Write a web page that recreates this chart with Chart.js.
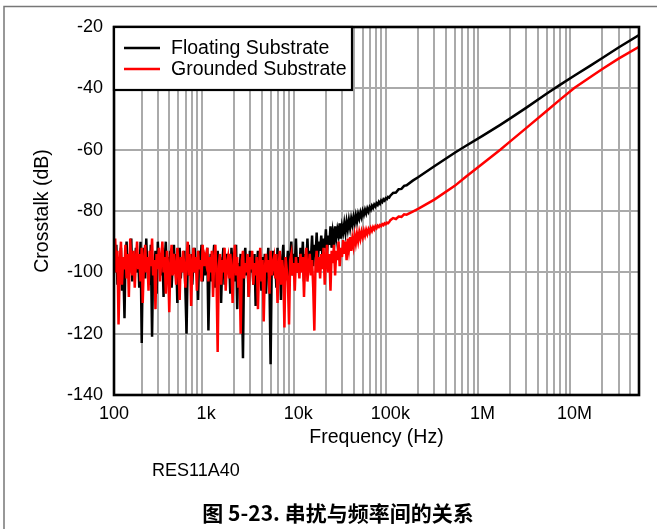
<!DOCTYPE html>
<html><head><meta charset="utf-8">
<script src="https://cdn.jsdelivr.net/npm/chart.js@4.4.0/dist/chart.umd.min.js"></script>
<style>
html,body{margin:0;padding:0;background:#fff;}
canvas{display:block;}
</style></head><body>
<canvas id="c" width="657" height="529"></canvas>
<script>
// ---------------- DATA ----------------
// dense noisy sweep 100 Hz .. ~97 kHz
const freqNoise = [
100,103,106,109,112,116,119,122,126,130,133,137,141,145,150,154,158,163,168,173,178,183,188,194,200,205,211,218,224,230,237,244,251,259,266,274,282,290,299,307,316,325,335,345,355,365,376,387,398,410,422,434,447,460,473,487,501,516,531,546,562,579,596,613,631,649,668,688,708,729,750,772,794,818,841,866,891,917,944,972,
1000,1029,1059,1090,1122,1155,1189,1223,1259,1296,1334,1372,1413,1454,1496,1540,1585,1631,1679,1728,1778,1830,1884,1939,1995,2054,2113,2175,2239,2304,2371,2441,2512,2585,2661,2738,2818,2901,2985,3073,3162,3255,3350,3447,3548,3652,3758,3868,3981,4097,4217,4340,4467,4597,4732,4870,5012,5158,5309,5464,5623,5788,5957,6131,6310,6494,6683,6879,7079,7286,7499,7718,7943,8175,8414,8660,8913,9173,9441,9716,
10000,10290,10590,10900,11220,11550,11890,12230,12590,12960,13340,13720,14130,14540,14960,15400,15850,16310,16790,17280,17780,18300,18840,19390,19950,20540,21130,21750,22390,23040,23710,24410,25120,25850,26610,27380,28180,29010,29850,30730,31620,32550,33500,34470,35480,36520,37580,38680,39810,40970,42170,43400,44670,45970,47320,48700,50120,51580,53090,54640,56230,57880,59570,61310,63100,64940,66830,68790,70790,72860,74990,77180,79430,81750,84140,86600,89130,91730,94410,97160
];
const freqSmooth = [100000,107000,115000,123000,132000,141000,150000,175000,200000,300000,500000,650000,1000000,1560000,2000000,3000000,5000000,7000000,10000000,15000000,20000000,30000000,50000000];

// Floating Substrate (black)
const floatingNoise = [
-93,-99,-91,-104,-95,-100,-92,-106,-97,-115,
-96,-90,-101,-94,-99,-89,-103,-95,-98,-92,
-100,-94,-105,-90,-123,-97,-92,-102,-89,-99,
-95,-104,-91,-121,-96,-100,-93,-107,-90,-98,
-94,-101,-92,-108,-96,-90,-103,-95,-99,-93,
-105,-97,-91,-100,-94,-110,-96,-92,-102,-95,
-99,-93,-106,-120,-97,-91,-101,-94,-104,-96,
-92,-100,-95,-109,-93,-98,-91,-103,-96,-101,
-97,-92,-119,-100,-94,-103,-96,-91,-105,-98,
-93,-101,-95,-110,-97,-92,-104,-99,-94,-100,
-96,-107,-92,-99,-95,-103,-91,-112,-97,-100,
-94,-105,-128,-96,-92,-101,-98,-108,-93,-100,
-96,-104,-94,-111,-98,-93,-102,-97,-106,-95,
-100,-94,-107,-99,-92,-103,-130,-97,-93,-101,
-96,-105,-92,-100,-94,-109,-97,-91,-102,-95,
-99,-93,-104,-96,-90,-101,-94,-98,-89,-100,
-95,-100,-92,-98,-90,-103,-94,-97,-89,-99,
-93,-96,-88,-98,-91,-95,-87,-97,-90,-93,
-88,-95,-89,-92,-86,-94,-88,-91,-85,-92,
-87,-90,-85,-89,-86,-88,-84,-89,-85,-87,
-84,-87,-83.5,-86,-83,-85.5,-82.5,-84.5,-82,-84,
-81.5,-83.5,-81,-82.5,-80.5,-82,-80,-81.2,-79.6,-80.8,
-79.2,-80.2,-78.8,-79.6,-78.3,-79,-77.9,-78.5,-77.5,-78,
-77,-77.6,-76.6,-77.1,-76.2,-76.6,-75.8,-76.1,-75.4,-75.6
];
const floatingSmooth = [-75,-74.1,-74,-72.9,-72.8,-71.8,-71.6,-70.1,-69,-65.4,-61,-58.9,-55.5,-51.9,-49.8,-46.3,-41.7,-38.8,-35.8,-32.5,-30.1,-26.7,-22.6];

// Grounded Substrate (red)
const groundedNoise = [
-94,-89,-100,-93,-117,-96,-90,-104,-95,-99,
-91,-102,-94,-108,-89,-97,-101,-93,-105,-96,
-90,-99,-94,-103,-92,-110,-97,-91,-100,-95,
-106,-93,-98,-89,-101,-96,-112,-94,-99,-92,
-103,-96,-90,-100,-95,-107,-93,-98,-113,-96,
-91,-101,-94,-99,-104,-92,-97,-109,-95,-100,
-93,-98,-105,-96,-90,-101,-94,-111,-97,-92,
-100,-95,-106,-93,-99,-96,-103,-91,-98,-95,
-97,-92,-103,-95,-100,-93,-108,-96,-91,-101,
-126,-98,-94,-104,-96,-100,-92,-106,-97,-95,
-102,-94,-99,-110,-96,-91,-101,-95,-105,-98,
-120,-96,-93,-102,-97,-100,-94,-108,-95,-99,
-93,-104,-97,-101,-95,-112,-98,-92,-103,-96,
-116,-99,-94,-100,-96,-107,-93,-101,-97,-95,
-102,-94,-110,-98,-93,-104,-96,-100,-118,-95,
-99,-103,-117,-96,-94,-101,-97,-106,-95,-100,
-97,-102,-94,-100,-95,-108,-96,-92,-103,-98,
-94,-101,-96,-105,-119,-97,-93,-100,-95,-102,
-94,-99,-92,-104,-96,-91,-100,-94,-106,-93,
-97,-91,-101,-93,-96,-90,-98,-92,-95,-89.5,
-94,-90,-96,-89,-92.5,-88.5,-93,-89,-91.5,-88,
-90.5,-87.5,-89.8,-87,-89,-86.8,-88.5,-86.5,-88,-86.2,
-87.5,-86,-87,-85.6,-86.5,-85.3,-86,-85,-85.6,-84.8,
-85.2,-84.6,-84.9,-84.3,-84.6,-84,-84.3,-83.8,-84,-83.6
];
const groundedSmooth = [-83,-82.3,-82.6,-81.8,-81.9,-81.1,-81.2,-80.2,-79.3,-76.3,-71.8,-69,-64.6,-60,-57.3,-52.9,-47.3,-43.6,-39.8,-36.2,-33.7,-30.3,-26.5];

const seriesNames = ['Floating Substrate','Grounded Substrate'];
const xTickValues = [100,1000,10000,100000,1000000,10000000];
const xTickLabels = ['100','1k','10k','100k','1M','10M'];
const yTickValues = [-140,-120,-100,-80,-60,-40,-20];
const xTitle = 'Frequency (Hz)';
const yTitle = 'Crosstalk (dB)';
const footnote = 'RES11A40';
const caption = '图 5-23. 串扰与频率间的关系';

// ---------------- BUILD ----------------
const freq = freqNoise.concat(freqSmooth);
const floating = floatingNoise.concat(floatingSmooth);
const grounded = groundedNoise.concat(groundedSmooth);
const toPts = arr => freq.map((f, i) => ({x: f, y: arr[i]}));

const X_MIN = 100, X_MAX = 50000000;
const gridFreqs = [];
for (let d = 100; d <= X_MAX; d *= 10) {
  for (let m = 1; m <= 9; m++) {
    const v = m * d;
    if (v <= X_MAX) gridFreqs.push(v);
  }
}

const FONT = '"Liberation Sans", Arial, sans-serif';
const GRID = '#aaaaaa';

const decorPlugin = {
  id: 'decor',
  afterDraw(chart) {
    const ctx = chart.ctx;
    const a = chart.chartArea;
    ctx.save();
    // outer frame lines
    ctx.strokeStyle = '#777';
    ctx.lineWidth = 1.5;
    ctx.beginPath();
    ctx.moveTo(4, 529); ctx.lineTo(4, 6.5); ctx.lineTo(657, 6.5);
    ctx.stroke();

    // plot border
    ctx.strokeStyle = '#000';
    ctx.lineWidth = 2.6;
    ctx.strokeRect(a.left, a.top, a.right - a.left, a.bottom - a.top);

    // legend box
    const lx = a.left, ly = a.top, lw = 238, lh = 63;
    ctx.fillStyle = '#fff';
    ctx.fillRect(lx, ly, lw, lh);
    ctx.lineWidth = 2.2;
    ctx.strokeStyle = '#000';
    ctx.strokeRect(lx, ly, lw, lh);
    const colors = [chart.data.datasets[0].borderColor, chart.data.datasets[1].borderColor];
    const rows = [ly + 21, ly + 42];
    ctx.font = '19.5px ' + FONT;
    ctx.textBaseline = 'middle';
    ctx.textAlign = 'left';
    for (let i = 0; i < 2; i++) {
      ctx.strokeStyle = colors[i];
      ctx.lineWidth = 2.5;
      ctx.beginPath();
      ctx.moveTo(lx + 10, rows[i]); ctx.lineTo(lx + 46, rows[i]);
      ctx.stroke();
      ctx.fillStyle = '#000';
      ctx.fillText(chart.data.datasets[i].label, lx + 57, rows[i] + 1);
    }

    // axis titles
    ctx.fillStyle = '#000';
    ctx.font = '19.5px ' + FONT;
    ctx.textAlign = 'center';
    ctx.textBaseline = 'middle';
    ctx.fillText(xTitle, (a.left + a.right) / 2, 438);
    ctx.save();
    ctx.translate(43, (a.top + a.bottom) / 2);
    ctx.rotate(-Math.PI / 2);
    ctx.fillText(yTitle, 0, 0);
    ctx.restore();

    // footnote
    ctx.font = '18px ' + FONT;
    ctx.textAlign = 'left';
    ctx.fillText(footnote, 152, 471);

    // caption
    ctx.font = 'bold 21px "Noto Sans CJK SC", sans-serif';
    ctx.textAlign = 'center';
    ctx.fillText(caption, 338, 513);
    ctx.restore();
  }
};

new Chart(document.getElementById('c').getContext('2d'), {
  type: 'line',
  data: {
    datasets: [
      {label: seriesNames[0], data: toPts(floating), borderColor: '#000000', borderWidth: 2.5, pointRadius: 0, tension: 0, order: 2},
      {label: seriesNames[1], data: toPts(grounded), borderColor: '#ff0000', borderWidth: 2.5, pointRadius: 0, tension: 0, order: 1}
    ]
  },
  options: {
    responsive: false,
    animation: false,
    devicePixelRatio: 1,
    layout: {padding: {left: 0, top: 27, right: 18, bottom: 0}},
    plugins: {legend: {display: false}, tooltip: {enabled: false}},
    scales: {
      x: {
        type: 'logarithmic', min: X_MIN, max: X_MAX,
        afterBuildTicks: s => { s.ticks = gridFreqs.map(v => ({value: v})); },
        afterFit: s => { s.height = 134; },
        grid: {color: c => xTickValues.includes(c.tick.value) ? 'rgba(0,0,0,0)' : GRID, lineWidth: 2, drawTicks: false},
        border: {display: false},
        ticks: {
          autoSkip: false, maxRotation: 0, padding: 8, color: '#000',
          font: {family: FONT, size: 18},
          callback: v => { const i = xTickValues.indexOf(v); return i >= 0 ? xTickLabels[i] : ''; }
        }
      },
      y: {
        min: -140, max: -20,
        afterBuildTicks: s => { s.ticks = yTickValues.map(v => ({value: v})); },
        afterFit: s => { s.width = 114; },
        grid: {color: c => (c.tick.value === -140 || c.tick.value === -20) ? 'rgba(0,0,0,0)' : GRID, lineWidth: 2, drawTicks: false},
        border: {display: false},
        ticks: {padding: 11, color: '#000', font: {family: FONT, size: 18}, callback: v => String(v)}
      }
    }
  },
  plugins: [decorPlugin]
});
</script>
</body></html>
